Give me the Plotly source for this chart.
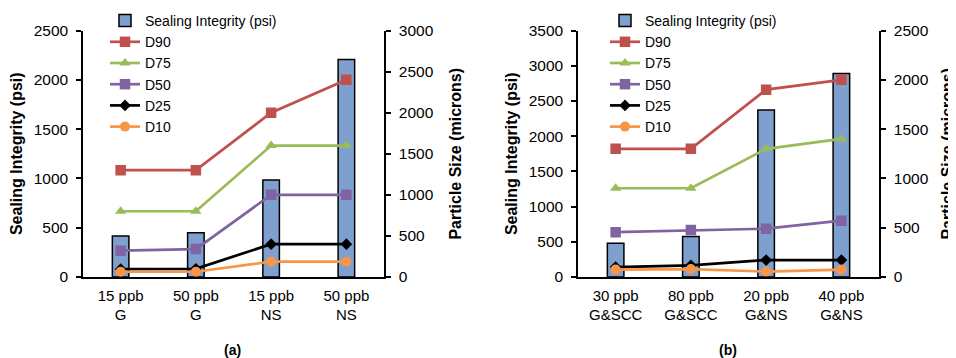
import plotly.graph_objects as go

# ---- data, panel (a)
cats_a = ["15 ppb<br>G", "50 ppb<br>G", "15 ppb<br>NS", "50 ppb<br>NS"]
seal_a = [415, 448, 985, 2205]
d90_a = [1300, 1300, 2000, 2400]
d75_a = [800, 800, 1600, 1600]
d50_a = [320, 340, 1000, 1000]
d25_a = [95, 100, 400, 400]
d10_a = [64, 64, 186, 186]

# ---- data, panel (b)
cats_b = ["30 ppb<br>G&SCC", "80 ppb<br>G&SCC", "20 ppb<br>G&NS", "40 ppb<br>G&NS"]
seal_b = [480, 575, 2370, 2890]
d90_b = [1300, 1300, 1900, 2000]
d75_b = [900, 900, 1300, 1400]
d50_b = [455, 476, 490, 571]
d25_b = [101, 118, 172, 172]
d10_b = [75, 80, 55, 75]

series_names = ["D90", "D75", "D50", "D25", "D10"]
colors = ["#C0504D", "#9BBB59", "#8064A2", "#000000", "#F79646"]
symbols = ["square", "triangle-up", "square", "diamond", "circle"]
msizes = [10.5, 10, 10.5, 9, 10]

FONT = "Liberation Sans, Arial, sans-serif"
# page body has an 8px margin, so the figure is drawn 8px smaller and offset
OFF = 8
W, H = 956 - OFF, 358 - OFF

def px(x):
    return (x - OFF) / W

def py(y):
    return (H - (y - OFF)) / H

fig = go.Figure()

def add_panel(cats, seal, lines, xa, ya, ya2, legend):
    fig.add_trace(go.Bar(
        x=cats, y=seal, name="Sealing Integrity (psi)", xaxis=xa, yaxis=ya,
        width=0.22, marker=dict(color="#7DA0CF", line=dict(color="black", width=1.5)),
        legend=legend))
    for name, vals, c, s, ms in zip(series_names, lines, colors, symbols, msizes):
        fig.add_trace(go.Scatter(
            x=cats, y=vals, name=name, xaxis=xa, yaxis=ya2, mode="lines+markers",
            line=dict(color=c, width=2.7), marker=dict(symbol=s, size=ms, color=c),
            legend=legend))

add_panel(cats_a, seal_a, [d90_a, d75_a, d50_a, d25_a, d10_a], "x", "y", "y2", "legend")
add_panel(cats_b, seal_b, [d90_b, d75_b, d50_b, d25_b, d10_b], "x2", "y3", "y4", "legend2")

ydom = [py(277), py(30.5)]
ytickfont = dict(family=FONT, size=15.5, color="black")
xtickfont = dict(family=FONT, size=15, color="black")
titlefont = dict(family=FONT, size=16, color="black", weight="bold")

def yax(rng, title, side, anchor, overlay=None, standoff=7):
    d = dict(domain=ydom, range=rng, dtick=500, side=side, anchor=anchor,
             showline=True, linecolor="black", linewidth=1.5,
             ticks="outside", ticklen=5, tickcolor="black", tickwidth=1.5,
             showgrid=False, zeroline=False, tickfont=ytickfont,
             ticklabelstandoff=5,
             title=dict(text=title, font=titlefont, standoff=standoff), fixedrange=True)
    if overlay:
        d["overlaying"] = overlay
    return d

def xax(dom, anchor):
    return dict(domain=dom, anchor=anchor, showline=True, linecolor="black", linewidth=1.5,
                ticks="", showgrid=False, zeroline=False, tickfont=xtickfont,
                ticklabelstandoff=4, fixedrange=True)

leg_common = dict(font=dict(family=FONT, size=14, color="black"), bgcolor="rgba(0,0,0,0)",
                  xanchor="left", yanchor="top", tracegroupgap=0)

fig.update_layout(
    width=W, height=H, margin=dict(l=0, r=0, t=0, b=0, autoexpand=False),
    paper_bgcolor="white", plot_bgcolor="white",
    font=dict(family=FONT, color="black"),
    barmode="overlay",
    xaxis=xax([px(83), px(384)], "y"),
    yaxis=yax([0, 2500], "Sealing Integrity (psi)", "left", "x"),
    yaxis2=yax([0, 3000], "Particle Size (microns)", "right", "x", "y", standoff=17),
    xaxis2=xax([px(578), px(879)], "y3"),
    yaxis3=yax([0, 3500], "Sealing Integrity (psi)", "left", "x2"),
    yaxis4=yax([0, 2500], "Particle Size (microns)", "right", "x2", "y3", standoff=17),
    legend=dict(x=px(105), y=py(5), **leg_common),
    legend2=dict(x=px(605), y=py(5), **leg_common),
    showlegend=True,
    annotations=[
        dict(text="<b>(a)</b>", x=px(232), y=py(350), xref="paper", yref="paper",
             xanchor="center", yanchor="middle", showarrow=False,
             font=dict(family=FONT, size=14, color="black")),
        dict(text="<b>(b)</b>", x=px(728), y=py(350), xref="paper", yref="paper",
             xanchor="center", yanchor="middle", showarrow=False,
             font=dict(family=FONT, size=14, color="black")),
    ],
)

fig.write_html("out.html")
